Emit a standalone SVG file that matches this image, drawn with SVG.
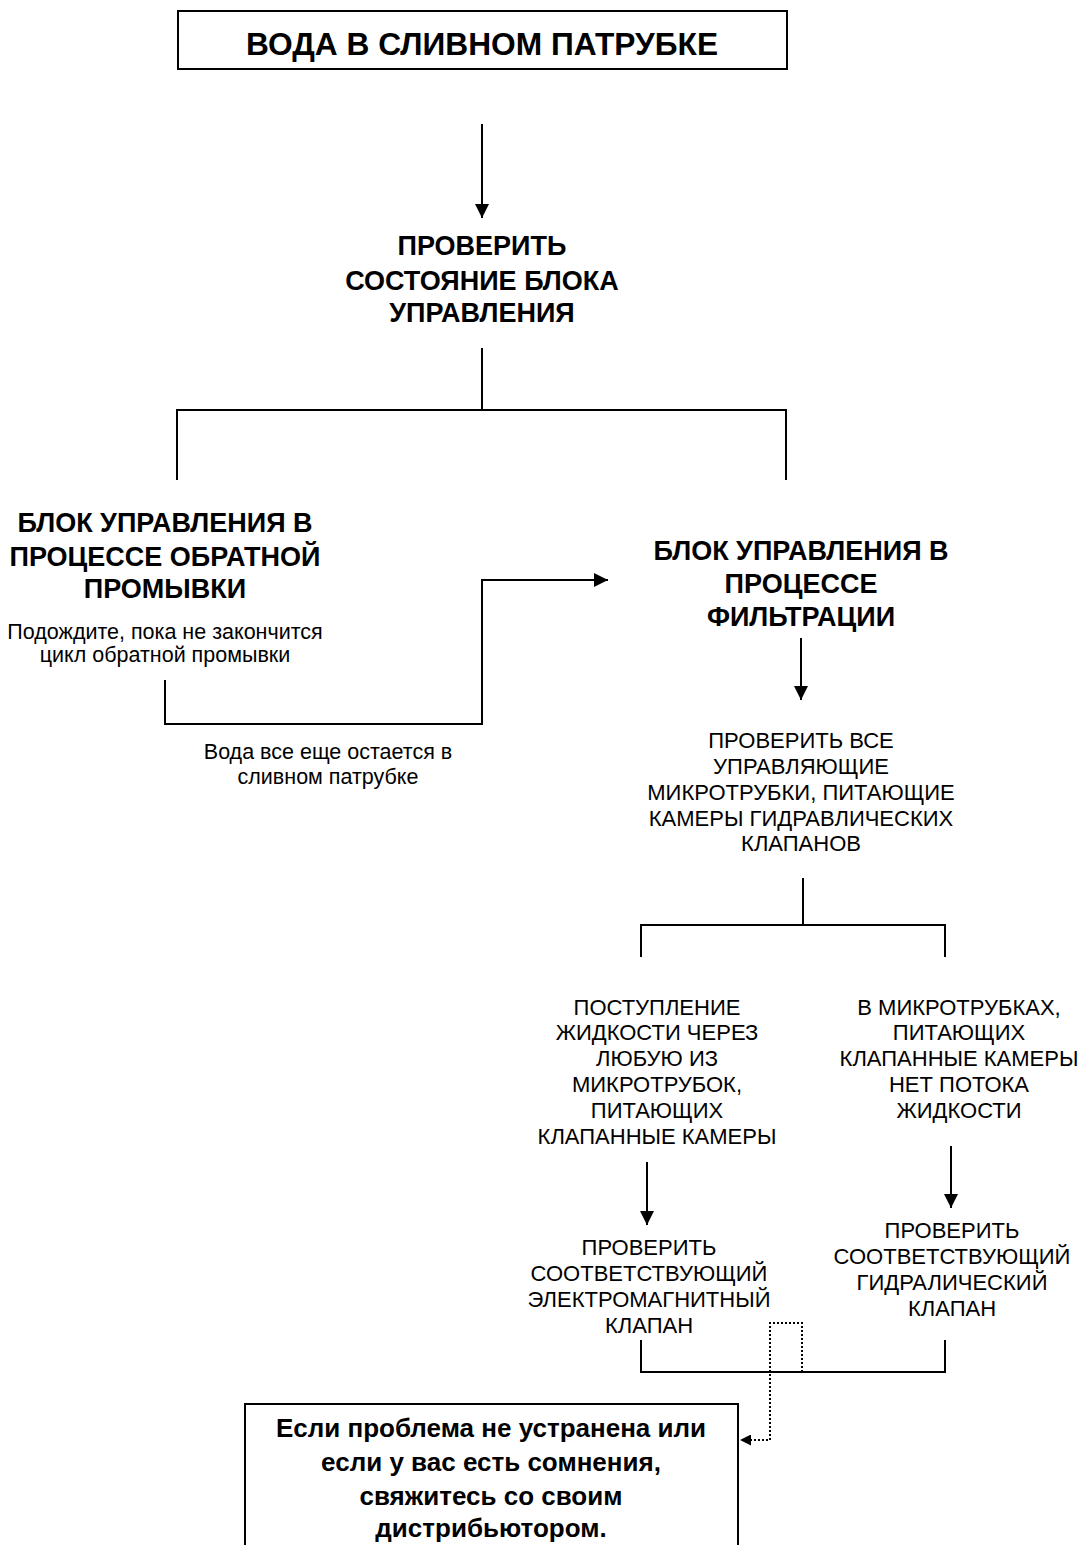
<svg xmlns="http://www.w3.org/2000/svg" width="1081" height="1545" viewBox="0 0 1081 1545">
<style>
text{font-family:"Liberation Sans",Arial,sans-serif;fill:#000;text-anchor:middle}
.t{font-size:31.7px;font-weight:bold}
.h{font-size:27px;font-weight:bold}
.n{font-size:22px}
.s{font-size:21.5px}
.b{font-size:26px;font-weight:bold}
.ln{fill:none;stroke:#000;stroke-width:2}
.dot{fill:none;stroke:#000;stroke-width:2;stroke-dasharray:2 2}
</style>
<defs>
<marker id="ar" viewBox="0 0 10 10" refX="10" refY="5" markerWidth="14" markerHeight="14" markerUnits="userSpaceOnUse" orient="auto"><path d="M0,0 L10,5 L0,10 z" fill="#000"/></marker>
<marker id="ars" viewBox="0 0 10 10" refX="10" refY="5" markerWidth="11" markerHeight="11" markerUnits="userSpaceOnUse" orient="auto"><path d="M0,0 L10,5 L0,10 z" fill="#000"/></marker>
</defs>
<g id="connectors">
<line class="ln" x1="482" y1="124" x2="482" y2="218" marker-end="url(#ar)"/>
<polyline class="ln" points="482,348 482,410"/>
<polyline class="ln" points="177,480 177,410 786,410 786,480"/>
<polyline class="ln" points="165,680 165,724 482,724 482,580 608,580" marker-end="url(#ar)"/>
<line class="ln" x1="801" y1="638" x2="801" y2="700" marker-end="url(#ar)"/>
<polyline class="ln" points="803,878 803,925"/>
<polyline class="ln" points="641,957 641,925 945,925 945,957"/>
<line class="ln" x1="647" y1="1162" x2="647" y2="1225" marker-end="url(#ar)"/>
<line class="ln" x1="951" y1="1146" x2="951" y2="1208" marker-end="url(#ar)"/>
<polyline class="ln" points="641,1340 641,1372 945,1372 945,1340"/>
<polyline class="dot" points="802,1372 802,1323 770,1323 770,1440 740,1440" marker-end="url(#ars)"/>
</g>
<g id="n-top">
<rect x="178" y="11" width="609" height="58" fill="#fff" stroke="#000" stroke-width="2"/>
<text class="t" x="482" y="55">ВОДА В СЛИВНОМ ПАТРУБКЕ</text>
</g>
<g id="n-check">
<text class="h" x="482" y="255">ПРОВЕРИТЬ</text>
<text class="h" x="482" y="290">СОСТОЯНИЕ БЛОКА</text>
<text class="h" x="482" y="322">УПРАВЛЕНИЯ</text>
</g>
<g id="n-backwash">
<text class="h" x="165" y="532">БЛОК УПРАВЛЕНИЯ В</text>
<text class="h" x="165" y="566">ПРОЦЕССЕ ОБРАТНОЙ</text>
<text class="h" x="165" y="598">ПРОМЫВКИ</text>
<text class="s" x="165" y="639">Подождите, пока не закончится</text>
<text class="s" x="165" y="662">цикл обратной промывки</text>
</g>
<g id="l-still">
<text class="s" x="328" y="759">Вода все еще остается в</text>
<text class="s" x="328" y="784">сливном патрубке</text>
</g>
<g id="n-filter">
<text class="h" x="801" y="560">БЛОК УПРАВЛЕНИЯ В</text>
<text class="h" x="801" y="593">ПРОЦЕССЕ</text>
<text class="h" x="801" y="626">ФИЛЬТРАЦИИ</text>
</g>
<g id="n-checkall">
<text class="n" x="801" y="748">ПРОВЕРИТЬ ВСЕ</text>
<text class="n" x="801" y="774">УПРАВЛЯЮЩИЕ</text>
<text class="n" x="801" y="800">МИКРОТРУБКИ, ПИТАЮЩИЕ</text>
<text class="n" x="801" y="826">КАМЕРЫ ГИДРАВЛИЧЕСКИХ</text>
<text class="n" x="801" y="851">КЛАПАНОВ</text>
</g>
<g id="n-flow">
<text class="n" x="657" y="1015">ПОСТУПЛЕНИЕ</text>
<text class="n" x="657" y="1040">ЖИДКОСТИ ЧЕРЕЗ</text>
<text class="n" x="657" y="1066">ЛЮБУЮ ИЗ</text>
<text class="n" x="657" y="1092">МИКРОТРУБОК,</text>
<text class="n" x="657" y="1118">ПИТАЮЩИХ</text>
<text class="n" x="657" y="1144">КЛАПАННЫЕ КАМЕРЫ</text>
</g>
<g id="n-noflow">
<text class="n" x="959" y="1015">В МИКРОТРУБКАХ,</text>
<text class="n" x="959" y="1040">ПИТАЮЩИХ</text>
<text class="n" x="959" y="1066">КЛАПАННЫЕ КАМЕРЫ</text>
<text class="n" x="959" y="1092">НЕТ ПОТОКА</text>
<text class="n" x="959" y="1118">ЖИДКОСТИ</text>
</g>
<g id="n-solenoid">
<text class="n" x="649" y="1255">ПРОВЕРИТЬ</text>
<text class="n" x="649" y="1281">СООТВЕТСТВУЮЩИЙ</text>
<text class="n" x="649" y="1307">ЭЛЕКТРОМАГНИТНЫЙ</text>
<text class="n" x="649" y="1333">КЛАПАН</text>
</g>
<g id="n-hydraulic">
<text class="n" x="952" y="1238">ПРОВЕРИТЬ</text>
<text class="n" x="952" y="1264">СООТВЕТСТВУЮЩИЙ</text>
<text class="n" x="952" y="1290">ГИДРАЛИЧЕСКИЙ</text>
<text class="n" x="952" y="1316">КЛАПАН</text>
</g>
<g id="n-contact">
<rect x="245" y="1404" width="493" height="150" fill="#fff" stroke="#000" stroke-width="2"/>
<text class="b" x="491" y="1437">Если проблема не устранена или</text>
<text class="b" x="491" y="1471">если у вас есть сомнения,</text>
<text class="b" x="491" y="1505">свяжитесь со своим</text>
<text class="b" x="491" y="1537">дистрибьютором.</text>
</g>
</svg>
